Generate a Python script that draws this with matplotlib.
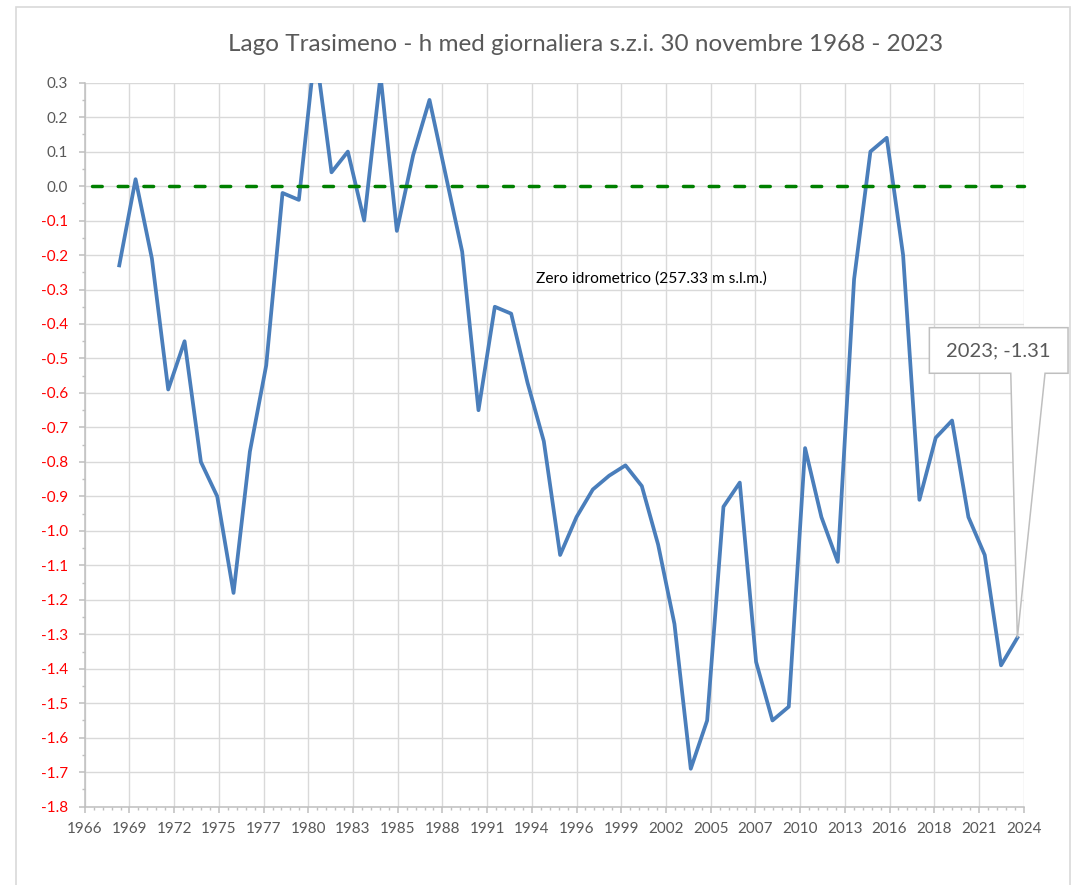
import datetime as dt
import numpy as np
import matplotlib
matplotlib.use("Agg")
import matplotlib.pyplot as plt
import matplotlib.dates as mdates
from matplotlib.ticker import MultipleLocator, FuncFormatter
from matplotlib.patches import Polygon, Rectangle

plt.rcParams['font.family'] = ['Lato', 'DejaVu Sans']

# livello medio giornaliero al 30 novembre, metri sopra lo zero idrometrico
years = list(range(1968, 2024))
levels = [-0.23, 0.02, -0.21, -0.59, -0.45, -0.80, -0.90, -1.18, -0.77, -0.52,
          -0.02, -0.04, 0.40, 0.04, 0.10, -0.10, 0.32, -0.13, 0.09, 0.25,
          0.03, -0.19, -0.65, -0.35, -0.37, -0.57, -0.74, -1.07, -0.96, -0.88,
          -0.84, -0.81, -0.87, -1.04, -1.27, -1.69, -1.55, -0.93, -0.86, -1.38,
          -1.55, -1.51, -0.76, -0.96, -1.09, -0.27, 0.10, 0.14, -0.20, -0.91,
          -0.73, -0.68, -0.96, -1.07, -1.39, -1.31]
zero_level = 0.0
zero_span = [dt.date(1967, 4, 1), dt.date(2024, 4, 18)]
zero_label = "Zero idrometrico (257.33 m s.l.m.)"
title = "Lago Trasimeno - h med giornaliera s.z.i. 30 novembre 1968 - 2023"

# asse date come in Excel: seriale 24400..45400, passo 1000 giorni
excel_epoch = dt.date(1899, 12, 30)
x_min = mdates.date2num(excel_epoch + dt.timedelta(days=24400))
x_max = mdates.date2num(excel_epoch + dt.timedelta(days=45400))

dates = [dt.date(y, 11, 30) for y in years]

grey_txt = '#595959'
grid_col = '#D9D9D9'
axis_col = '#BFBFBF'

fig = plt.figure(figsize=(10.74, 8.85), dpi=100)
ax = fig.add_axes([0.0789, 0.0885, 0.8742, 0.8181])

# cornice dell'area grafico
fig.patches.append(Rectangle((0.0146, -0.05), 0.9817, 1.0424, transform=fig.transFigure,
                             fill=False, edgecolor=grid_col, linewidth=1.2))

ax.plot(dates, levels, color='#4A7EBB', linewidth=2.7, zorder=3)
ax.plot(zero_span, [zero_level, zero_level], color='#008000', linewidth=2.5,
        dashes=(2.8, 4.6), dash_capstyle='round', zorder=4, clip_on=False)

ax.set_xlim(x_min, x_max)
ax.set_ylim(-1.8, 0.3)

ax.xaxis.set_major_locator(MultipleLocator(1000, offset=(x_min % 1000)))
ax.xaxis.set_minor_locator(MultipleLocator(200, offset=(x_min % 200)))
ax.xaxis.set_major_formatter(mdates.DateFormatter('%Y'))
ax.yaxis.set_major_locator(MultipleLocator(0.1))
ax.yaxis.set_minor_locator(MultipleLocator(0.05))
ax.yaxis.set_major_formatter(FuncFormatter(lambda v, p: f"{v:.1f}".replace("-0.0", "0.0")))

ax.grid(True, which='major', color=grid_col, linewidth=1.0, zorder=0)
ax.set_axisbelow(True)
for s in ['top', 'right']:
    ax.spines[s].set_visible(False)
for s in ['left', 'bottom']:
    ax.spines[s].set_color(axis_col)
    ax.spines[s].set_linewidth(1.1)

ax.tick_params(which='major', length=4, width=1.1, color=axis_col, labelsize=11,
               labelcolor=grey_txt)
ax.tick_params(which='minor', length=2.5, width=1.0, color=axis_col)
ax.tick_params(axis='y', pad=8)
ax.tick_params(axis='x', pad=7)

fig.canvas.draw()
for lab in ax.get_yticklabels():
    txt = lab.get_text()
    if txt.startswith('-') or txt.startswith('\u2212'):
        lab.set_color('red')

fig.text(0.545, 0.9498, title, ha='center', va='center', fontsize=17.5, color=grey_txt)

ax.text(0.4802, 0.7298, zero_label, transform=ax.transAxes, ha='left', va='center',
        fontsize=11.2, color='black')

# etichetta a fumetto sull'ultimo punto
apex = ax.transAxes.inverted().transform(
    ax.transData.transform((mdates.date2num(dates[-1]), levels[-1])))
L, R, B, T = 0.8996, 1.0473, 0.5986, 0.6616
w1, w2 = 0.9863, 1.0228
callout = Polygon([(L, T), (R, T), (R, B), (w2, B), tuple(apex), (w1, B), (L, B)],
                  closed=True, transform=ax.transAxes, facecolor='white',
                  edgecolor=axis_col, linewidth=1.1, clip_on=False, zorder=6)
ax.add_patch(callout)
ax.text((L + R) / 2, (B + T) / 2, f"{years[-1]}; {levels[-1]:.2f}", transform=ax.transAxes,
        ha='center', va='center', fontsize=14.5, color=grey_txt, zorder=7)

fig.savefig('out.png', dpi=100, facecolor='white')
